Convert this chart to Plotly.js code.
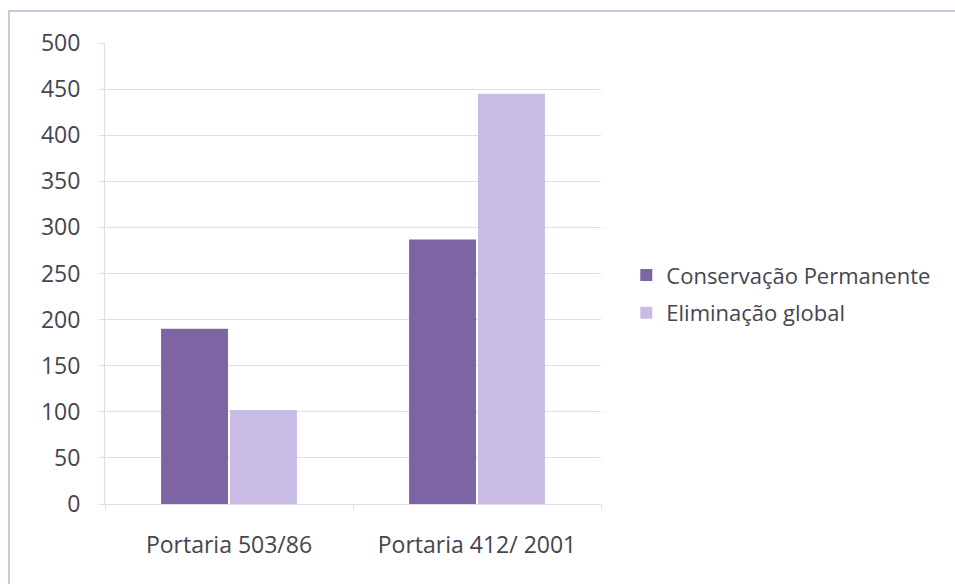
<!DOCTYPE html>
<html>
<head>
<meta charset="utf-8">
<script src="https://cdn.plot.ly/plotly-3.0.1.min.js"></script>
<style>
  html, body { margin: 0; padding: 0; background: #ffffff; }
  #wrap { position: relative; width: 955px; height: 584px; overflow: hidden; }
  #chart { position: absolute; left: 0; top: 0; width: 955px; height: 584px; }
  #frame { position: absolute; left: 8px; top: 10px; width: 960px; height: 600px;
           border-top: 2px solid #cbc5de; border-left: 2px solid #cbc5de; pointer-events: none; }
</style>
</head>
<body>
<div id="wrap">
  <div id="chart"></div>
  <div id="frame"></div>
</div>
<script>
const categories = ["Portaria 503/86", "Portaria 412/ 2001"];
const seriesNames = ["Conservação Permanente", "Eliminação global"];
const conservacao = [190, 287];
const eliminacao = [102, 445];
const yTicks = [0, 50, 100, 150, 200, 250, 300, 350, 400, 450, 500];

const FONT = "'Open Sans', 'Noto Sans', sans-serif";
const TXT = "#45454f";
const GRID = "#e0dcec";

const traces = [
  { type: "bar", name: seriesNames[0], x: categories, y: conservacao,
    marker: { color: "#7d64a2" }, legendgroup: "a", hoverinfo: "y" },
  { type: "bar", name: seriesNames[1], x: categories, y: eliminacao,
    marker: { color: "#c8bce4" }, legendgroup: "b", hoverinfo: "y" }
];

const layout = {
  width: 955, height: 584,
  margin: { l: 105, r: 354, t: 43, b: 80 },
  paper_bgcolor: "rgba(0,0,0,0)",
  plot_bgcolor: "#ffffff",
  barmode: "group",
  bargap: 0.444,
  bargroupgap: 0.03,
  font: { family: FONT, color: TXT, size: 22 },
  xaxis: {
    type: "category",
    showgrid: false,
    showline: true, linecolor: GRID, linewidth: 1,
    ticks: "outside", tickson: "boundaries", ticklen: 5, tickcolor: GRID,
    ticklabelstandoff: 20,
    tickfont: { family: FONT, size: 23, color: TXT },
    fixedrange: true
  },
  yaxis: {
    range: [0, 500],
    tickvals: yTicks,
    ticktext: yTicks.map(String),
    showgrid: true, gridcolor: GRID, gridwidth: 1,
    showline: true, linecolor: GRID, linewidth: 1,
    zeroline: false,
    ticks: "outside", ticklen: 5, tickcolor: GRID,
    ticklabelstandoff: 14,
    tickfont: { family: FONT, size: 23, color: TXT },
    fixedrange: true
  },
  showlegend: true,
  legend: {
    x: 1.051, xanchor: "left",
    y: 0.455, yanchor: "middle",
    traceorder: "grouped",
    tracegroupgap: 6,
    font: { family: FONT, size: 22, color: TXT },
    itemwidth: 30,
    bgcolor: "rgba(0,0,0,0)"
  }
};

Plotly.newPlot("chart", traces, layout, { displayModeBar: false, staticPlot: true });
</script>
</body>
</html>
